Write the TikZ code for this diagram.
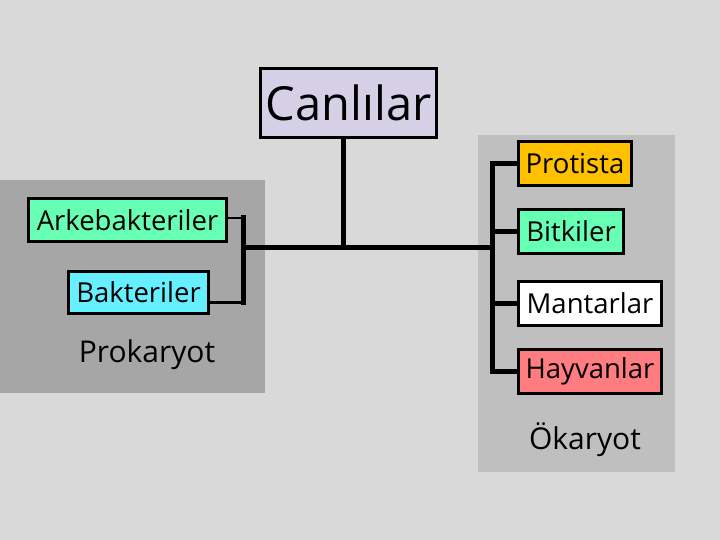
\documentclass[tikz,border=0pt]{standalone}
\usepackage{fontspec}
\setmainfont{Open Sans}
\usepackage{tikz}
\usetikzlibrary{positioning}
\definecolor{BGgray}{RGB}{217,217,217}
\definecolor{PROgray}{RGB}{166,166,166}
\definecolor{EUKgray}{RGB}{191,191,191}
\definecolor{LIFElav}{RGB}{213,208,230}
\definecolor{MINTgreen}{RGB}{102,255,179}
\definecolor{SKYcyan}{RGB}{102,240,255}
\definecolor{AMBERorg}{RGB}{255,192,0}
\definecolor{ROSEred}{RGB}{255,124,128}

\begin{document}
\begin{tikzpicture}[
    x=1pt, y=-1pt,
    taxon/.style={
      draw,
      line width=3pt,
      inner sep=0pt,
      font=\fontsize{27.5}{32}\selectfont
    },
    grouplabel/.style={
      font=\fontsize{30}{35}\selectfont,
      inner sep=0pt
    },
    link/.style={line width=5pt},
    twig/.style={line width=2.5pt}
  ]
    % panels
    \fill[BGgray] (0,0) rectangle (720,540);
    \useasboundingbox (0,0) rectangle (720,540);
    \fill[PROgray] (0,180) rectangle (265,393);
    \fill[EUKgray] (478,135) rectangle (675,472);

    \node[taxon, fill=LIFElav, minimum width=176pt, minimum height=69pt,
      font=\fontsize{47}{52}\selectfont] (canlilar) at (348.5,103) {Canlılar};

    \node[taxon, fill=MINTgreen, minimum width=198pt, minimum height=43pt]
      (arke) at (127.5,220) {Arkebakteriler};
    \node[taxon, fill=SKYcyan, minimum width=140pt, minimum height=42pt]
      (bakt) at (138.5,292.5) {Bakteriler};
    \node[grouplabel] (prokaryot) at (147,355) {Prokaryot};

    \node[taxon, fill=AMBERorg, minimum width=113pt, minimum height=44pt]
      (protista) at (575,163.5) {Protista};
    \node[taxon, fill=MINTgreen, minimum width=105pt, minimum height=44pt]
      (bitkiler) at (571,231.5) {Bitkiler};
    \node[taxon, fill=white, minimum width=143pt, minimum height=44pt]
      (mantar) at (590,303.5) {Mantarlar};
    \node[taxon, fill=ROSEred, minimum width=143pt, minimum height=44pt]
      (hayvan) at (590,371.5) {Hayvanlar};
    \node[grouplabel] (okaryot) at (585,440) {Ökaryot};

    \coordinate (hub) at (343,247);
    \coordinate (lft) at (243,247);
    \coordinate (rgt) at (492,247);
    \coordinate (arke-end) at ([yshift=2pt]arke.east);
    \coordinate (bakt-end) at ([yshift=-10pt]bakt.east);

    % trunk
    \draw[link] (canlilar.south -| hub) -- (hub);
    \draw[link] (lft) -- (rgt);

    % prokaryot bracket
    \draw[twig] (arke-end) -- (arke-end -| lft);
    \draw[link, line cap=rect] (arke-end -| lft) -- (bakt-end -| lft);
    \draw[twig] (bakt-end -| lft) -- (bakt-end);

    % okaryot bracket
    \draw[link, line cap=rect] (protista.west -| rgt) -- (hayvan.west -| rgt);
    \draw[link] (protista.west -| rgt) -- (protista.west);
    \draw[link] (bitkiler.west -| rgt) -- (bitkiler.west);
    \draw[link] (mantar.west -| rgt) -- (mantar.west);
    \draw[link] (hayvan.west -| rgt) -- (hayvan.west);
  \end{tikzpicture}
\end{document}
